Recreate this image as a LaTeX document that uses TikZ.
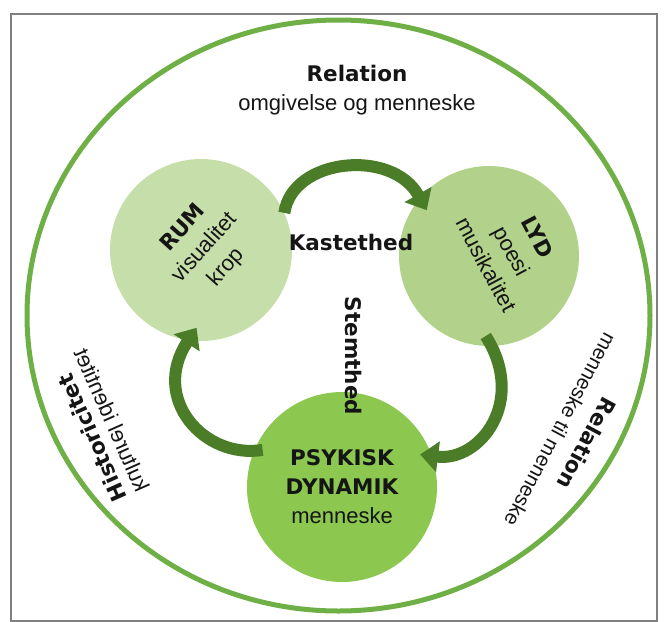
\documentclass[tikz,border=0pt]{standalone}
\usepackage{fontspec}
\setmainfont{Liberation Sans}
\newfontfamily\heavyfont{DejaVu Sans}
\usetikzlibrary{arrows.meta}
\definecolor{framegray}{HTML}{808080}
\definecolor{ring}{HTML}{6EAF46}
\definecolor{rumfill}{HTML}{C6DEAA}
\definecolor{lydfill}{HTML}{B2D28C}
\definecolor{psyfill}{HTML}{8CC850}
\definecolor{arrowgreen}{HTML}{4B7D28}
\definecolor{ink}{HTML}{151515}
\newcommand\hv{\heavyfont\bfseries\fontsize{21.5}{29}\selectfont}
\begin{document}
\begin{tikzpicture}[x=1pt, y=-1pt,
  bubble/.style={circle, inner sep=0pt},
  flow/.style={arrowgreen, line width=12pt, -{Triangle[length=18pt,width=30pt]}},
  txt/.style={text=ink, font=\fontsize{22}{29}\selectfont, align=center, inner sep=0pt}]
\useasboundingbox (0,0) rectangle (665,622);
\draw[framegray, line width=2pt] (10.5,14) rectangle (656.5,621);
\draw[ring, line width=5pt] (338.5,315.5) ellipse [x radius=311.5pt, y radius=295.5pt];
\node[bubble, fill=rumfill, minimum size=182pt] (rum) at (201,250) {};
\node[bubble, fill=lydfill, minimum size=180pt] (lyd) at (489,256) {};
\node[bubble, fill=psyfill, minimum size=190pt] (psy) at (342,487) {};
\draw[flow, shorten >=-14pt] (rum.24) .. controls +(8,-55) and +(-28,-50) .. (lyd.140);
\draw[flow, shorten <=-12pt, shorten >=-12pt] (lyd.272) .. controls +(35,55) and +(48,6) .. (psy.19);
\draw[flow, shorten <=-9pt, shorten >=-15pt] (psy.158) .. controls +(-50,8) and +(-38,58) .. (rum.262);
\node[txt] (reltop) at (357,90) {{\hv Relation}\\omgivelse og menneske};
\node[txt, font=\hv] (kast) at (351,242) {Kastethed};
\node[txt, font=\hv, rotate=-90] (stem) at (354,356) {Stemthed};
\node[txt, rotate=48] (rumtxt) at (205,248) {{\hv RUM}\\visualitet\\krop};
\node[txt, rotate=-62] (lydtxt) at (512,251) {{\hv LYD}\\poesi\\musikalitet};
\node[txt] (psytxt) at (342,487) {{\hv PSYKISK}\\{\hv DYNAMIK}\\menneske};
\node[txt, font=\hv, rotate=114] (hist) at (92,438) {Historicitet};
\node[txt, rotate=114, yscale=-1] (kult) at (112,420) {kulturel identitet};
\node[txt, rotate=-118] (relright) at (574,437) {{\hv Relation}\\{\fontsize{20.5}{29}\selectfont menneske til menneske}};
\end{tikzpicture}
\end{document}
